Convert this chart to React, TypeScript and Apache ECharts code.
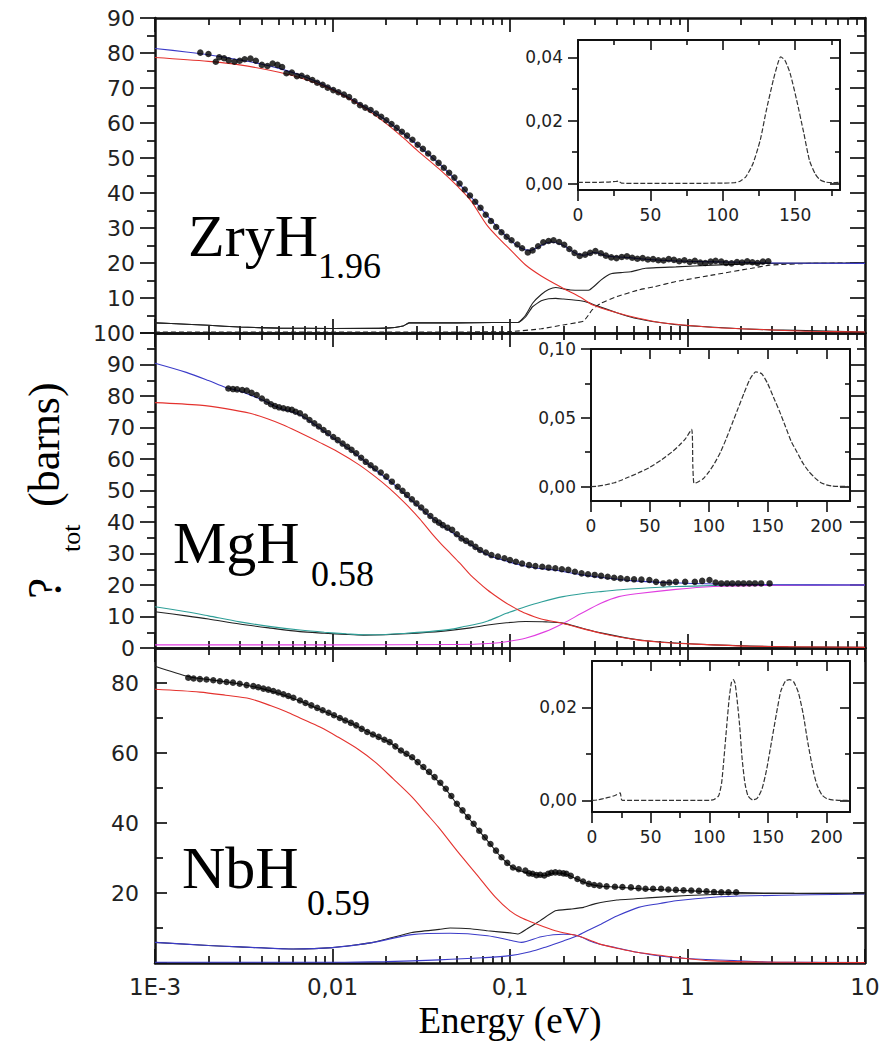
import React, { useEffect, useRef } from 'react';
import * as echarts from 'echarts';

// ---------- tick labels ----------
const xTickValues = [0.001, 0.01, 0.1, 1, 10];
const xTickLabels = ['1E-3', '0,01', '0,1', '1', '10'];
const panelNames = ['ZryH', 'MgH', 'NbH'];
const panelSubs = ['1.96', '0.58', '0.59'];

// ---------- ZryH1.96 ----------
const zryDots: number[][] = [
  [1.8e-3, 80.1], [2.0e-3, 79.7], [2.2e-3, 77.5], [2.3e-3, 78.8], [2.45e-3, 78.5], [2.6e-3, 77.9], [2.8e-3, 77.5],
  [3.0e-3, 77.8], [3.2e-3, 78.2], [3.45e-3, 78.4], [3.7e-3, 77.8], [4.0e-3, 76.6], [4.3e-3, 76.3], [4.6e-3, 77.0],
  [4.9e-3, 76.6], [5.2e-3, 76.0], [5.5e-3, 74.2], [5.9e-3, 74.4], [6.3e-3, 73.4], [6.7e-3, 73.5], [7.2e-3, 72.9],
  [7.7e-3, 72.3], [8.2e-3, 71.5], [8.8e-3, 70.9], [9.4e-3, 70.1], [0.0101, 69.4], [0.0108, 68.8], [0.0116, 68.1],
  [0.0124, 67.4], [0.0133, 66.2], [0.0143, 65.1], [0.0153, 64.4], [0.0164, 63.7], [0.0176, 62.7], [0.0188, 61.8],
  [0.0201, 60.8], [0.0215, 59.7], [0.023, 58.6], [0.0246, 57.5], [0.0263, 56.4], [0.0282, 55.2], [0.0302, 53.8],
  [0.0323, 52.6], [0.0346, 51.3], [0.037, 50.0], [0.0396, 48.6], [0.0424, 47.2], [0.0454, 45.8], [0.0486, 44.4],
  [0.052, 42.7], [0.0556, 41.0], [0.0595, 39.3], [0.0637, 37.5], [0.0682, 35.8], [0.073, 33.8], [0.0781, 32.0],
  [0.0836, 30.3], [0.0895, 28.8], [0.0958, 27.5], [0.102, 26.5], [0.11, 25.3], [0.117, 24.2], [0.126, 23.0],
  [0.134, 23.6], [0.144, 24.8], [0.154, 25.9], [0.165, 26.3], [0.176, 26.5], [0.189, 26.0], [0.202, 25.2],
  [0.216, 24.0], [0.231, 22.9], [0.247, 22.0], [0.265, 22.4], [0.283, 22.9], [0.303, 23.4], [0.325, 22.8],
  [0.347, 22.1], [0.372, 21.6], [0.398, 21.4], [0.426, 21.7], [0.456, 21.9], [0.488, 21.5], [0.522, 21.2],
  [0.559, 21.4], [0.598, 21.0], [0.64, 21.1], [0.685, 20.8], [0.733, 20.7], [0.784, 21.1], [0.839, 20.9],
  [0.898, 20.5], [0.961, 20.8], [1.03, 20.3], [1.1, 20.6], [1.18, 20.1], [1.26, 20.0], [1.35, 20.4], [1.44, 20.6],
  [1.55, 20.4], [1.65, 20.0], [1.77, 19.9], [1.9, 20.3], [2.03, 20.1], [2.17, 20.5], [2.32, 20.2], [2.48, 20.0],
  [2.66, 20.4], [2.85, 20.5],
];
const zryTotal: number[][] = [
  [1e-3, 81.3], [1.5e-3, 80.3], [2e-3, 79.5], [3e-3, 78.0], [4e-3, 76.8], [5e-3, 75.6], [7e-3, 73.2], [0.01, 69.7],
  [0.015, 64.8], [0.02, 60.8], [0.03, 53.8], [0.04, 48.3], [0.05, 43.4], [0.06, 39.0], [0.07, 35.1], [0.08, 31.7],
  [0.09, 28.8], [0.1, 26.6], [0.115, 24.3], [0.13, 23.6], [0.15, 25.0], [0.17, 26.0], [0.2, 25.0], [0.23, 23.0],
  [0.26, 22.2], [0.3, 23.0], [0.35, 22.0], [0.45, 21.6], [0.6, 21.0], [1, 20.5], [2, 20.2], [3, 20.0], [10, 19.9],
];
const zryRed: number[][] = [
  [1e-3, 78.7], [2e-3, 77.6], [3e-3, 76.6], [5e-3, 74.5], [7e-3, 72.5], [0.01, 69.4], [0.015, 64.4], [0.02, 59.9],
  [0.025, 55.8], [0.03, 52.2], [0.04, 46.8], [0.0509, 41.8], [0.06, 37.9], [0.0747, 30.6], [0.09, 26.2],
  [0.1, 23.9], [0.122, 19.5], [0.15, 16.3], [0.199, 12.8], [0.25, 10.2], [0.293, 8.0], [0.4, 5.8], [0.53, 4.2],
  [0.7, 3.0], [0.95, 2.3], [1.5, 1.5], [2.9, 0.9], [5, 0.5], [10, 0.3],
];
const zryBlackA: number[][] = [
  [1e-3, 2.9], [1.5e-3, 2.5], [2e-3, 2.2], [3e-3, 1.7], [5e-3, 1.4], [0.01, 1.3], [0.02, 1.4], [0.025, 2.0],
  [0.027, 2.9], [0.05, 2.9], [0.08, 3.0], [0.111, 3.0], [0.122, 5.0], [0.134, 8.5], [0.15, 11.0], [0.165, 12.4],
  [0.181, 13.0], [0.2, 12.6], [0.219, 12.3], [0.25, 12.2], [0.28, 12.3], [0.3, 13.5], [0.325, 15.1], [0.35, 16.3],
  [0.375, 17.0], [0.43, 17.3], [0.479, 17.5], [0.58, 18.5], [0.86, 18.9], [1.4, 19.4], [2.9, 19.9], [10, 20.0],
];
const zryBlackB: number[][] = [
  [1e-3, 2.9], [1.5e-3, 2.5], [2e-3, 2.2], [3e-3, 1.7], [5e-3, 1.4], [0.01, 1.3], [0.02, 1.4], [0.025, 2.0],
  [0.027, 2.9], [0.05, 2.9], [0.08, 3.0], [0.111, 3.0], [0.122, 4.5], [0.134, 7.5], [0.15, 9.2], [0.165, 9.8],
  [0.181, 9.9], [0.2, 9.7], [0.25, 9.2], [0.28, 8.6], [0.3, 8.0], [0.4, 5.8], [0.5, 4.3], [0.7, 3.0], [1, 2.1],
  [2, 1.2], [3, 0.9], [10, 0.3],
];
const zryDashed: number[][] = [
  [1e-3, 0.3], [0.05, 0.3], [0.1, 0.4], [0.15, 1.2], [0.199, 2.3], [0.24, 3.0], [0.26, 3.4], [0.28, 5.5],
  [0.29, 6.6], [0.325, 8.5], [0.4, 10.4], [0.53, 12.3], [0.65, 13.2], [0.86, 14.7], [1.4, 16.6], [2.3, 18.5],
  [2.9, 19.4], [5, 19.9], [10, 20.0],
];

// ---------- MgH0.58 ----------
const mgDots: number[][] = [
  [2.59e-3, 82.4], [2.75e-3, 82.2], [2.9e-3, 82.1], [3.1e-3, 81.9], [3.29e-3, 81.7], [3.5e-3, 81.0], [3.74e-3, 80.3],
  [4.0e-3, 79.2], [4.26e-3, 78.2], [4.5e-3, 77.4], [4.74e-3, 76.8], [5.0e-3, 76.4], [5.29e-3, 76.1], [5.6e-3, 75.8],
  [5.9e-3, 75.6], [6.2e-3, 75.0], [6.56e-3, 74.5], [7.0e-3, 73.5], [7.42e-3, 72.4], [7.9e-3, 71.3], [8.38e-3, 70.3],
  [8.9e-3, 69.2], [9.45e-3, 68.2], [0.0101, 67.0], [0.0107, 66.0], [0.0114, 64.9], [0.0121, 63.9], [0.0128, 62.9],
  [0.0136, 61.8], [0.0145, 60.4], [0.0154, 59.1], [0.0164, 58.0], [0.0174, 57.0], [0.0187, 55.7], [0.0201, 54.4],
  [0.0216, 52.8], [0.0233, 51.2], [0.0248, 49.9], [0.0263, 48.6], [0.028, 47.2], [0.0297, 45.9], [0.0316, 44.6],
  [0.0335, 43.3], [0.0356, 41.9], [0.0378, 40.6], [0.0398, 39.8], [0.0418, 39.0], [0.0444, 38.2], [0.0472, 37.5],
  [0.0502, 36.1], [0.0533, 34.8], [0.0566, 34.0], [0.0601, 33.2], [0.0639, 32.1], [0.0679, 31.1], [0.0731, 30.3],
  [0.0786, 29.5], [0.0855, 29.0], [0.093, 28.5], [0.1, 27.9], [0.108, 27.4], [0.117, 26.8], [0.128, 26.3],
  [0.139, 26.0], [0.152, 25.8], [0.165, 25.5], [0.18, 25.3], [0.196, 25.0], [0.213, 24.8], [0.232, 24.2],
  [0.253, 23.7], [0.275, 23.4], [0.3, 23.2], [0.326, 22.9], [0.355, 22.6], [0.386, 22.3], [0.42, 22.1],
  [0.457, 21.9], [0.5, 21.8], [0.55, 21.7], [0.61, 21.6], [0.665, 21.0], [0.73, 20.5], [0.79, 20.8], [0.86, 21.0],
  [0.97, 21.0], [1.1, 21.0], [1.21, 21.3], [1.33, 21.6], [1.44, 20.8], [1.55, 20.5], [1.67, 20.5], [1.79, 20.5],
  [1.93, 20.5], [2.07, 20.5], [2.23, 20.5], [2.4, 20.5], [2.6, 20.5], [2.9, 20.5],
];
const mgTotal: number[][] = [
  [1e-3, 90.4], [1.5e-3, 87.5], [2e-3, 84.9], [2.5e-3, 82.7], [3e-3, 81.6], [4e-3, 78.8], [5e-3, 76.2],
  [6.5e-3, 74.1], [8e-3, 70.8], [0.01, 66.8], [0.013, 62.3], [0.017, 57.0], [0.022, 52.1], [0.028, 46.8],
  [0.035, 42.0], [0.042, 38.6], [0.05, 35.8], [0.06, 32.8], [0.075, 29.5], [0.09, 28.0], [0.11, 26.6],
  [0.14, 25.4], [0.18, 24.7], [0.25, 23.3], [0.35, 22.2], [0.5, 21.3], [0.8, 20.7], [1.5, 20.3], [3, 20.1],
  [10, 20.0],
];
const mgRed: number[][] = [
  [1e-3, 77.9], [1.79e-3, 77.1], [2.5e-3, 76.0], [3.43e-3, 74.5], [4.3e-3, 72.8], [5.29e-3, 70.8], [6.56e-3, 68.3],
  [8.5e-3, 65.2], [0.0107, 62.3], [0.014, 58.3], [0.0174, 54.4], [0.021, 50.6], [0.0257, 45.9], [0.031, 41.0],
  [0.0362, 36.4], [0.041, 33.0], [0.046, 30.1], [0.052, 27.0], [0.0587, 23.7], [0.066, 21.0], [0.0747, 18.4],
  [0.085, 16.1], [0.0955, 14.2], [0.108, 12.5], [0.122, 11.0], [0.15, 9.2], [0.199, 7.8], [0.25, 6.3],
  [0.325, 4.7], [0.42, 3.4], [0.53, 2.5], [0.68, 1.9], [0.86, 1.5], [1.4, 1.0], [2.2, 0.6], [3.7, 0.4], [10, 0.2],
];
const mgCyan: number[][] = [
  [1e-3, 13.1], [1.5e-3, 11.5], [2e-3, 10.2], [3e-3, 8.3], [4.5e-3, 6.8], [6.56e-3, 5.7], [0.009, 5.0],
  [0.012, 4.5], [0.015, 4.2], [0.02, 4.3], [0.026, 4.7], [0.035, 5.2], [0.046, 5.9], [0.055, 6.8], [0.065, 7.6],
  [0.075, 8.6], [0.085, 9.8], [0.0955, 11.0], [0.11, 12.2], [0.122, 13.1], [0.15, 14.6], [0.199, 16.3],
  [0.26, 17.3], [0.325, 17.9], [0.42, 18.5], [0.53, 18.9], [0.86, 19.5], [1.4, 19.8], [3, 19.95], [10, 20.0],
];
const mgBlack: number[][] = [
  [1e-3, 11.5], [1.5e-3, 10.2], [2e-3, 9.2], [3e-3, 7.6], [4.5e-3, 6.3], [6.56e-3, 5.2], [0.009, 4.7],
  [0.012, 4.3], [0.015, 4.1], [0.02, 4.2], [0.026, 4.5], [0.035, 5.0], [0.046, 5.6], [0.06, 6.4], [0.075, 7.3],
  [0.0955, 8.0], [0.122, 8.4], [0.16, 8.3], [0.199, 7.9], [0.25, 6.4], [0.325, 4.8], [0.53, 2.6], [0.86, 1.6],
  [1.4, 1.0], [3.7, 0.4], [10, 0.2],
];
const mgMagenta: number[][] = [
  [1e-3, 1.0], [0.01, 1.0], [0.05, 1.1], [0.08, 1.5], [0.0955, 2.0], [0.122, 3.1], [0.158, 5.2], [0.199, 7.8],
  [0.253, 11.0], [0.325, 14.2], [0.41, 16.3], [0.53, 17.3], [0.86, 18.6], [1.4, 19.5], [2.3, 19.8], [10, 20.0],
];

// ---------- NbH0.59 ----------
const nbDots: number[][] = [
  [1.54e-3, 81.5], [1.65e-3, 81.3], [1.79e-3, 81.1], [1.95e-3, 81.0], [2.13e-3, 80.8], [2.32e-3, 80.5],
  [2.53e-3, 80.3], [2.75e-3, 80.1], [3.0e-3, 79.8], [3.28e-3, 79.4], [3.58e-3, 79.1], [3.82e-3, 78.8],
  [4.08e-3, 78.4], [4.35e-3, 78.1], [4.64e-3, 77.7], [4.95e-3, 77.3], [5.29e-3, 76.8], [5.64e-3, 76.3],
  [6.02e-3, 75.8], [6.56e-3, 75.0], [7.05e-3, 74.3], [7.6e-3, 73.6], [8.2e-3, 72.9], [8.8e-3, 72.2],
  [9.5e-3, 71.5], [0.0102, 70.8], [0.011, 70.0], [0.0118, 69.3], [0.0127, 68.6], [0.0136, 67.9], [0.0146, 66.9],
  [0.0157, 66.0], [0.0169, 65.3], [0.0182, 64.6], [0.0196, 63.8], [0.021, 63.1], [0.0226, 61.9], [0.0243, 60.7],
  [0.0261, 59.8], [0.0281, 58.8], [0.0302, 57.4], [0.0325, 56.0], [0.035, 54.6], [0.0376, 53.1], [0.0405, 51.5],
  [0.0435, 49.8], [0.0467, 47.7], [0.0502, 45.5], [0.054, 43.6], [0.058, 41.7], [0.0624, 39.8], [0.0671, 37.8],
  [0.0722, 35.9], [0.0776, 34.0], [0.0834, 32.1], [0.0896, 30.2], [0.0965, 28.6], [0.104, 27.3], [0.112, 26.8],
  [0.122, 26.4], [0.128, 25.6], [0.134, 25.5], [0.141, 25.1], [0.148, 25.2], [0.156, 25.0], [0.164, 25.5],
  [0.171, 25.8], [0.18, 25.9], [0.19, 25.8], [0.2, 25.6], [0.208, 25.5], [0.22, 24.9], [0.24, 24.0],
  [0.258, 23.3], [0.278, 22.6], [0.298, 22.3], [0.32, 22.1], [0.35, 21.9], [0.39, 21.8], [0.43, 21.7],
  [0.48, 21.6], [0.53, 21.4], [0.58, 21.2], [0.64, 21.2], [0.71, 21.2], [0.78, 21.0], [0.86, 20.9], [0.95, 20.8],
  [1.05, 20.7], [1.16, 20.6], [1.28, 20.5], [1.41, 20.3], [1.55, 20.2], [1.7, 20.2], [1.88, 20.2],
];
const nbTotal: number[][] = [
  [1e-3, 84.8], [1.58e-3, 81.7], [2e-3, 81.0], [3e-3, 79.7], [4e-3, 78.4], [5e-3, 77.0], [6.5e-3, 74.9],
  [0.0085, 72.4], [0.0102, 70.7], [0.0136, 67.8], [0.018, 64.6], [0.021, 63.0], [0.0243, 60.6], [0.0281, 58.6],
  [0.0325, 55.8], [0.0376, 52.9], [0.0435, 49.6], [0.0502, 45.4], [0.058, 41.6], [0.0671, 37.7], [0.0776, 33.9],
  [0.0896, 30.1], [0.104, 27.2], [0.115, 26.3], [0.134, 25.4], [0.156, 25.0], [0.18, 25.7], [0.208, 25.3],
  [0.24, 23.9], [0.278, 22.6], [0.32, 22.0], [0.39, 21.7], [0.48, 21.4], [0.58, 21.1], [0.86, 20.8], [1.3, 20.4],
  [2, 20.1], [4, 19.9], [10, 19.8],
];
const nbRed: number[][] = [
  [1e-3, 78.2], [1.79e-3, 77.4], [2.5e-3, 76.5], [3.43e-3, 75.5], [4.5e-3, 73.5], [5.5e-3, 71.8], [6.56e-3, 70.0],
  [0.0085, 67.4], [0.0107, 64.6], [0.014, 61.0], [0.0174, 57.4], [0.022, 52.6], [0.0281, 47.4], [0.034, 42.6],
  [0.0395, 38.8], [0.0502, 32.1], [0.0646, 25.4], [0.0827, 18.8], [0.1, 14.9], [0.115, 13.0], [0.134, 11.6],
  [0.18, 9.2], [0.24, 7.8], [0.28, 6.6], [0.32, 5.4], [0.42, 4.0], [0.53, 3.0], [0.7, 2.2], [0.86, 1.6],
  [1.4, 0.6], [3.7, 0.2], [10, 0.1],
];
const nbBlackLow: number[][] = [
  [1e-3, 5.9], [2e-3, 5.0], [3e-3, 4.6], [6e-3, 4.0], [0.01, 4.4], [0.017, 5.9], [0.028, 8.7], [0.04, 9.6],
  [0.046, 10.0], [0.06, 9.8], [0.0747, 9.2], [0.1, 8.6], [0.111, 8.3], [0.125, 9.8], [0.148, 12.1], [0.18, 14.9],
  [0.219, 15.4], [0.26, 15.9], [0.3, 16.9], [0.4, 18.0], [0.6, 18.6], [1, 19.3], [2, 19.8], [10, 20.0],
];
const nbBlueHump: number[][] = [
  [1e-3, 5.9], [2e-3, 5.0], [3e-3, 4.6], [6e-3, 4.0], [0.01, 4.4], [0.017, 5.9], [0.028, 8.1], [0.046, 8.5],
  [0.0747, 7.8], [0.1, 6.5], [0.116, 5.9], [0.15, 7.5], [0.2, 8.2], [0.24, 7.8], [0.3, 5.8], [0.4, 4.3],
  [0.5, 3.2], [0.7, 2.0], [1, 1.3], [2, 0.6], [3, 0.3], [10, 0.1],
];
const nbBlueRise: number[][] = [
  [1e-3, 0.2], [0.01, 0.2], [0.02, 0.4], [0.04, 0.9], [0.07, 1.5], [0.1, 2.1], [0.13, 3.2], [0.16, 4.6],
  [0.2, 6.3], [0.24, 7.8], [0.28, 9.5], [0.325, 11.1], [0.4, 13.4], [0.53, 15.9], [0.7, 17.0], [0.86, 17.8],
  [1.4, 18.8], [2.3, 19.2], [5, 19.5], [10, 19.7],
];

// ---------- insets ----------
const inset1: number[][] = [
  [0, 0.0004], [10, 0.0004], [20, 0.0005], [26, 0.0007], [28, 0.0008], [30, 0.0002], [40, 0.0001], [60, 0.0001],
  [80, 0.0001], [100, 0.0002], [108, 0.0003], [112, 0.0008], [116, 0.0022], [121, 0.0065], [126, 0.014],
  [130, 0.023], [135, 0.033], [138, 0.038], [140, 0.0402], [143, 0.039], [146.5, 0.035], [151, 0.0266],
  [156, 0.016], [160, 0.0072], [164, 0.003], [167, 0.0013], [171, 0.0005], [176, 0.0003], [180, 0.0004],
];
const inset2: number[][] = [
  [0, 0], [5, 0.0002], [10, 0.0008], [20, 0.0028], [25, 0.0044], [30, 0.0062], [40, 0.0098], [50, 0.014],
  [60, 0.0195], [70, 0.026], [75, 0.03], [80, 0.0345], [85.5, 0.0415], [86.5, 0.015], [87.5, 0.0024], [90, 0.003],
  [95, 0.0055], [100, 0.0105], [105, 0.017], [110, 0.025], [115, 0.035], [120, 0.046], [125, 0.057], [130, 0.068],
  [135, 0.078], [140, 0.0834], [145, 0.082], [150, 0.075], [155, 0.065], [160, 0.055], [165, 0.044], [170, 0.033],
  [175, 0.025], [180, 0.017], [185, 0.011], [190, 0.0065], [195, 0.003], [200, 0.0012], [205, 0.0003],
  [210, 0.0001], [218, 0.0001],
];
const inset3: number[][] = [
  [0, 0], [5, 0.0001], [10, 0.0004], [15, 0.0007], [20, 0.0011], [24, 0.0016], [25, 0.0003], [26, 0], [60, 0],
  [100, 0], [104, 0.0002], [108, 0.001], [110.5, 0.0037], [112.5, 0.009], [114.8, 0.0158], [117, 0.022],
  [119, 0.0255], [120.5, 0.026], [122, 0.0252], [124, 0.021], [126, 0.0158], [128, 0.009], [130.4, 0.0037],
  [133, 0.001], [137, 0.0001], [141, 0.0005], [145, 0.0025], [148.8, 0.0065], [153, 0.0125], [157.3, 0.0187],
  [161, 0.0235], [165, 0.0257], [168.6, 0.026], [172, 0.0255], [176, 0.0232], [180, 0.0187], [184, 0.0125],
  [188.5, 0.0065], [192, 0.0032], [196, 0.0012], [200, 0.0004], [205, 0.0001], [212, 0], [218, 0],
];

const insetXMax = [181, 220, 220];
const insetYMin = [-0.002, -0.0105, -0.0025];
const insetYMax = [0.0455, 0.1, 0.03];
const insetXMajor = [[0, 50, 100, 150], [0, 50, 100, 150, 200], [0, 50, 100, 150, 200]];
const insetXMinor = [[25, 75, 125, 175], [25, 75, 125, 175], [25, 75, 125, 175]];
const insetYMajor = [[0, 0.02, 0.04], [0, 0.05, 0.1], [0, 0.02]];
const insetYMinor = [[0.01, 0.03], [0.025, 0.075], [0.01]];

// main y ticks
const panelYMax = [90, 100, 90];
const panelYMajor = [
  [0, 10, 20, 30, 40, 50, 60, 70, 80, 90],
  [0, 10, 20, 30, 40, 50, 60, 70, 80, 90, 100],
  [0, 20, 40, 60, 80],
];
const panelYMinor = [
  [5, 15, 25, 35, 45, 55, 65, 75, 85],
  [5, 15, 25, 35, 45, 55, 65, 75, 85, 95],
  [10, 30, 50, 70],
];
const panelYLabels = [
  [10, 20, 30, 40, 50, 60, 70, 80, 90],
  [0, 10, 20, 30, 40, 50, 60, 70, 80, 90, 100],
  [20, 40, 60, 80],
];

// ---------- styling ----------
const AX = '#111';
const SANS = "'DejaVu Sans', sans-serif";
const SERIF = "'Liberation Serif', 'Times New Roman', serif";
const BLUE = '#3b3bc8';
const RED = '#e4322e';
const TEAL = '#2f9f98';
const MAGENTA = '#e03ee0';
const BLACK = '#222';

const mainGrids = [
  { left: 155, top: 18, width: 710, height: 315 },
  { left: 155, top: 333, width: 710, height: 315 },
  { left: 155, top: 648, width: 710, height: 315 },
];
const insetGrids = [
  { left: 578, top: 40, width: 262, height: 150 },
  { left: 591, top: 349, width: 259, height: 152 },
  { left: 592, top: 661, width: 258, height: 151 },
];

function buildOption() {
  const grid: any[] = [];
  const xAxis: any[] = [];
  const yAxis: any[] = [];
  const series: any[] = [];

  // tick positions of the log energy axis, expressed as decade exponents
  const logMajor: number[] = [-3, -2, -1, 0, 1];
  const logMinor: number[] = [];
  for (let d = -3; d < 1; d++) for (let k = 2; k <= 9; k++) logMinor.push(d + Math.log10(k));

  const xFmt = (v: number) => {
    const i = xTickValues.findIndex((t) => Math.abs(Math.log10(t) - Math.log10(v)) < 1e-6);
    return i >= 0 ? xTickLabels[i] : '';
  };

  const mainX: number[] = [];
  const mainY: number[] = [];
  const lineOn = (w: number) => ({ show: true, onZero: false, lineStyle: { color: AX, width: w } });
  const lineOff = { show: false, onZero: false };
  const tk = (vals: number[], len: number, inside: boolean, w = 1.7) => ({
    show: true, inside, length: len, customValues: vals, lineStyle: { color: AX, width: w },
  });
  const quiet = { splitLine: { show: false }, minorTick: { show: false }, minorSplitLine: { show: false } };

  mainGrids.forEach((g, p) => {
    grid.push({ ...g, containLabel: false });
    const logBase = { type: 'log', logBase: 10, gridIndex: p, min: 0.001, max: 10, axisTick: { show: false }, ...quiet };
    mainX.push(xAxis.length);
    xAxis.push({
      ...logBase, position: 'bottom', axisLine: lineOn(2.5),
      axisLabel: { show: p === 2, formatter: xFmt, fontSize: 23, fontFamily: SANS, color: '#222', margin: 12 },
    });
    xAxis.push({ ...logBase, position: 'top', axisLine: lineOn(2.5), axisLabel: { show: false } });
    // tick-only axes in decade-exponent units, overlaying the log axes
    const expBase = { type: 'value', gridIndex: p, min: -3, max: 1, axisLine: lineOff, axisLabel: { show: false }, ...quiet };
    xAxis.push({ ...expBase, position: 'bottom', axisTick: tk(logMajor, 14, true) });
    xAxis.push({ ...expBase, position: 'bottom', axisTick: tk(logMinor, 7, true) });
    xAxis.push({ ...expBase, position: 'top', axisTick: tk(logMajor, 14, true) });
    xAxis.push({ ...expBase, position: 'top', axisTick: tk(logMinor, 7, true) });

    const ymax = panelYMax[p];
    const yb = { type: 'value', gridIndex: p, min: 0, max: ymax, ...quiet };
    const outward = p < 2;
    const majLen = p < 2 ? 15 : 12;
    mainY.push(yAxis.length);
    yAxis.push({
      ...yb, position: 'left', axisLine: lineOn(2.5), axisTick: tk(panelYMajor[p], majLen, !outward),
      axisLabel: {
        customValues: panelYLabels[p], fontSize: 22, fontFamily: SANS, color: '#222', margin: outward ? 20 : 16,
      },
    });
    yAxis.push({ ...yb, position: 'left', axisLine: lineOff, axisTick: tk(panelYMinor[p], 8, !outward), axisLabel: { show: false } });
    yAxis.push({ ...yb, position: 'right', axisLine: lineOn(2.5), axisTick: tk(panelYMajor[p], majLen, true), axisLabel: { show: false } });
    yAxis.push({ ...yb, position: 'right', axisLine: lineOff, axisTick: tk(panelYMinor[p], 8, true), axisLabel: { show: false } });
  });

  const line = (p: number, data: number[][], color: string, opts: any = {}) => ({
    type: 'line', xAxisIndex: mainX[p], yAxisIndex: mainY[p], data, showSymbol: false, symbol: 'none',
    lineStyle: { color, width: 1.1, ...(opts.lineStyle || {}) }, smooth: opts.smooth ?? 0.3, z: opts.z ?? 3,
    silent: true,
  });
  const dots = (p: number, data: number[][]) => ({
    type: 'scatter', xAxisIndex: mainX[p], yAxisIndex: mainY[p], data, symbol: 'circle', symbolSize: 6.5,
    itemStyle: { color: '#000' }, z: 6, silent: true,
  });

  // Panel 1
  series.push(line(0, zryBlackA, BLACK, { smooth: 0.15 }));
  series.push(line(0, zryBlackB, BLACK, { smooth: 0.15 }));
  series.push(line(0, zryDashed, BLACK, { smooth: 0.15, lineStyle: { type: [5, 3] } }));
  series.push(line(0, zryTotal, BLUE));
  series.push(line(0, zryRed, RED, { z: 4 }));
  series.push(dots(0, zryDots));
  // Panel 2
  series.push(line(1, mgBlack, BLACK));
  series.push(line(1, mgCyan, TEAL));
  series.push(line(1, mgMagenta, MAGENTA));
  series.push(line(1, mgTotal, BLUE));
  series.push(line(1, mgRed, RED, { z: 4 }));
  series.push(dots(1, mgDots));
  // Panel 3
  series.push(line(2, nbBlackLow, BLACK, { smooth: 0.15 }));
  series.push(line(2, nbBlueHump, BLUE));
  series.push(line(2, nbBlueRise, BLUE));
  series.push(line(2, nbTotal, BLACK));
  series.push(line(2, nbRed, RED, { z: 4 }));
  series.push(dots(2, nbDots));

  // insets
  const insetData = [inset1, inset2, inset3];
  const commaFmt = (v: number) => v.toFixed(2).replace('.', ',');
  insetGrids.forEach((g, k) => {
    const gi = grid.length;
    grid.push({ ...g, containLabel: false, show: true, backgroundColor: '#fff', borderWidth: 0, z: 10 });
    const xb = { type: 'value', gridIndex: gi, min: 0, max: insetXMax[k], ...quiet, z: 11 };
    const yb = { type: 'value', gridIndex: gi, min: insetYMin[k], max: insetYMax[k], ...quiet, z: 11 };
    const xi = xAxis.length;
    xAxis.push({
      ...xb, position: 'bottom', axisLine: lineOn(2), axisTick: tk(insetXMajor[k], 11, false, 1.6),
      axisLabel: { customValues: insetXMajor[k], fontSize: 17, fontFamily: SANS, color: '#222', margin: 16 },
    });
    xAxis.push({ ...xb, position: 'bottom', axisLine: lineOff, axisTick: tk(insetXMinor[k], 6, false, 1.6), axisLabel: { show: false } });
    xAxis.push({ ...xb, position: 'top', axisLine: lineOn(2), axisTick: tk(insetXMajor[k], 10, true, 1.6), axisLabel: { show: false } });
    xAxis.push({ ...xb, position: 'top', axisLine: lineOff, axisTick: tk(insetXMinor[k], 5, true, 1.6), axisLabel: { show: false } });
    const yi = yAxis.length;
    yAxis.push({
      ...yb, position: 'left', axisLine: lineOn(2), axisTick: tk(insetYMajor[k], 10, false, 1.6),
      axisLabel: { customValues: insetYMajor[k], formatter: commaFmt, fontSize: 17, fontFamily: SANS, color: '#222', margin: 15 },
    });
    yAxis.push({ ...yb, position: 'left', axisLine: lineOff, axisTick: tk(insetYMinor[k], 6, false, 1.6), axisLabel: { show: false } });
    yAxis.push({ ...yb, position: 'right', axisLine: lineOn(2), axisTick: tk(insetYMajor[k], 10, true, 1.6), axisLabel: { show: false } });
    yAxis.push({ ...yb, position: 'right', axisLine: lineOff, axisTick: tk(insetYMinor[k], 5, true, 1.6), axisLabel: { show: false } });
    series.push({
      type: 'line', xAxisIndex: xi, yAxisIndex: yi, data: insetData[k], showSymbol: false, symbol: 'none',
      smooth: 0.2, lineStyle: { color: '#333', width: 1.2, type: [5, 2] }, z: 12, silent: true,
    });
  });

  const graphic: any[] = [];
  const nameX = [188, 173, 182];
  const nameY = [236, 543, 868];
  const subX = [318, 311, 307];
  const subY = [266, 574, 903];
  panelNames.forEach((n, i) => {
    graphic.push({
      type: 'text', x: nameX[i], y: nameY[i], z: 20,
      style: { text: n, font: `60px ${SERIF}`, fill: '#000', textAlign: 'left', textVerticalAlign: 'middle' },
    });
    graphic.push({
      type: 'text', x: subX[i], y: subY[i], z: 20,
      style: { text: panelSubs[i], font: `36px ${SERIF}`, fill: '#000', textAlign: 'left', textVerticalAlign: 'middle' },
    });
  });
  graphic.push({
    type: 'text', x: 510, y: 1020, z: 20,
    style: { text: 'Energy (eV)', font: `37px ${SERIF}`, fill: '#000', textAlign: 'center', textVerticalAlign: 'middle' },
  });
  graphic.push({
    type: 'text', x: 44, y: 599, rotation: Math.PI / 2, z: 20,
    style: { text: '?', font: `48px ${SERIF}`, fill: '#000', textAlign: 'left', textVerticalAlign: 'middle' },
  });
  graphic.push({
    type: 'text', x: 71, y: 552, rotation: Math.PI / 2, z: 20,
    style: { text: 'tot', font: `26px ${SERIF}`, fill: '#000', textAlign: 'left', textVerticalAlign: 'middle' },
  });
  graphic.push({
    type: 'text', x: 44, y: 507, rotation: Math.PI / 2, z: 20,
    style: { text: '(barns)', font: `44px ${SERIF}`, fill: '#000', textAlign: 'left', textVerticalAlign: 'middle' },
  });

  return {
    animation: false,
    backgroundColor: '#fff',
    grid, xAxis, yAxis, series, graphic,
  };
}

export default function App() {
  const ref = useRef<HTMLDivElement>(null);
  useEffect(() => {
    const chart = echarts.init(ref.current!, null, { renderer: 'svg' });
    chart.setOption(buildOption() as any);
    return () => chart.dispose();
  }, []);
  return (
    <div
      ref={ref}
      style={{ position: 'absolute', left: 0, top: 0, width: 889, height: 1045, background: '#fff' }}
    />
  );
}
